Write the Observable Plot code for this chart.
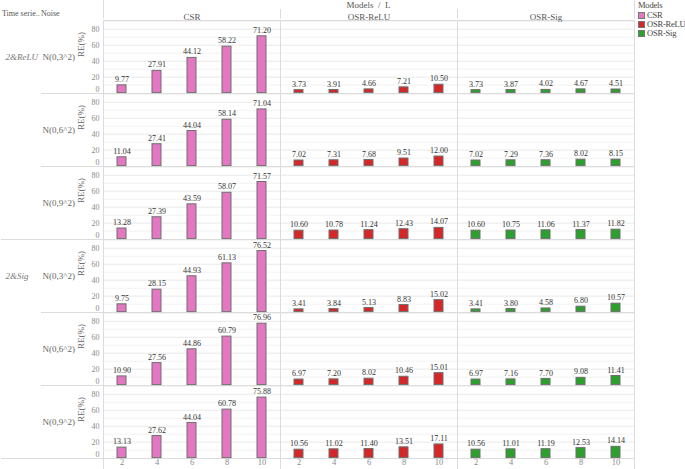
<!DOCTYPE html>
<html><head><meta charset="utf-8">
<script src="https://cdn.jsdelivr.net/npm/d3@7"></script>
<script src="https://cdn.jsdelivr.net/npm/@observablehq/plot@0.6"></script>
<style>
body{margin:0;background:#fff;font-family:"Liberation Serif",serif;}
#wrap{position:relative;width:685px;height:469px;overflow:hidden;}
.hdr{position:absolute;font-size:9px;color:#555;white-space:pre;line-height:10px;}
.legend{position:absolute;left:635px;top:1px;font-size:8.5px;letter-spacing:-0.2px;color:#444;line-height:9px;white-space:nowrap;}
.legend .it{display:flex;align-items:center;}
.legend .sw{display:inline-block;flex:none;width:7px;height:7px;margin:0 2px 0 3px;box-sizing:border-box;border:1px solid #777;}
</style></head>
<body><div id="wrap"></div>
<script>
const timeSeries = ["2&ReLU", "2&Sig"];
const noises = ["N(0,3^2)", "N(0,6^2)", "N(0,9^2)"];
const models = ["CSR", "OSR-ReLU", "OSR-Sig"];
const modelColors = ["#e377c2", "#d62728", "#2ca02c"];
const L = [2, 4, 6, 8, 10];
// rows: 2&ReLU N3, N6, N9, 2&Sig N3, N6, N9
const csr = [
  [9.77, 27.91, 44.12, 58.22, 71.20],
  [11.04, 27.41, 44.04, 58.14, 71.04],
  [13.28, 27.39, 43.59, 58.07, 71.57],
  [9.75, 28.15, 44.93, 61.13, 76.52],
  [10.90, 27.56, 44.86, 60.79, 76.96],
  [13.13, 27.62, 44.04, 60.78, 75.88]
];
const osrRelu = [
  [3.73, 3.91, 4.66, 7.21, 10.50],
  [7.02, 7.31, 7.68, 9.51, 12.00],
  [10.60, 10.78, 11.24, 12.43, 14.07],
  [3.41, 3.84, 5.13, 8.83, 15.02],
  [6.97, 7.20, 8.02, 10.46, 15.01],
  [10.56, 11.02, 11.40, 13.51, 17.11]
];
const osrSig = [
  [3.73, 3.87, 4.02, 4.67, 4.51],
  [7.02, 7.29, 7.36, 8.02, 8.15],
  [10.60, 10.75, 11.06, 11.37, 11.82],
  [3.41, 3.80, 4.58, 6.80, 10.57],
  [6.97, 7.16, 7.70, 9.08, 11.41],
  [10.56, 11.01, 11.19, 12.53, 14.14]
];
const yTicks = [0, 20, 40, 60, 80];

const rows = [];
timeSeries.forEach((ts, i) => noises.forEach((nz, j) => rows.push({ts, nz, j, key: ts + "|" + nz, r: i * noises.length + j})));
const seriesByModel = [csr, osrRelu, osrSig];
const data = [];
models.forEach((m, mi) => rows.forEach(row => L.forEach((l, k) =>
  data.push({model: m, key: row.key, L: l, v: seriesByModel[mi][row.r][k]}))));

const yTop = 91, yBot = -0.5;
const lineColor = "#dcdcdc";

const chart = Plot.plot({
  width: 685, height: 469,
  marginLeft: 102, marginRight: 51, marginTop: 18.5, marginBottom: 10,
  style: {fontFamily: "Liberation Serif, serif", background: "white", overflow: "visible"},
  fx: {domain: models, padding: 0, axis: null},
  fy: {domain: rows.map(d => d.key), padding: 0, axis: null},
  x: {type: "band", domain: L, paddingInner: 0.737, paddingOuter: 0.368},
  y: {domain: [yBot, yTop]},
  color: {domain: models, range: modelColors},
  marks: [
    Plot.gridY({ticks: d3.range(10, 91, 20), stroke: "#f2f2f2", strokeOpacity: 1}),
    Plot.gridY({ticks: d3.range(20, 91, 20), stroke: "#e9e9e9", strokeOpacity: 1}),
    Plot.frame({stroke: lineColor}),
    // row separators extending under the label columns
    Plot.ruleY(rows.filter(r => r.j > 0), {fy: "key", fx: () => models[0], y: () => yTop, dx: -62, stroke: lineColor}),
    Plot.ruleY(rows.filter(r => r.j === 0 && r.r > 0), {fy: "key", fx: () => models[0], y: () => yTop, dx: -102, stroke: lineColor}),
    Plot.ruleY(rows.slice(-1), {fy: "key", fx: () => models[0], y: () => yBot, dx: -102, stroke: lineColor}),
    Plot.barY(data, {fx: "model", fy: "key", x: "L", y: "v", fill: "model", stroke: "#6f6f6f", strokeWidth: 1}),
    Plot.text(data, {fx: "model", fy: "key", x: "L", y: "v", text: d => d.v.toFixed(2), dy: -6, fill: "#333", fontSize: 8}),
    Plot.axisY({ticks: yTicks.filter(t => t > 0), tickSize: 0, tickPadding: 4, label: null, fill: "#8a8a8a", fontSize: 8}),
    Plot.axisY({ticks: [0], tickSize: 0, tickPadding: 4, dy: -4, label: null, fill: "#8a8a8a", fontSize: 8}),
    Plot.axisX({tickSize: 0, tickPadding: 0, label: null, fill: "#8a8a8a", fontSize: 8.5}),
    Plot.axisFx({anchor: "top", tickSize: 0, tickPadding: 1, label: null, fill: "#555", fontSize: 9}),
    Plot.text(rows, {fy: "key", fx: () => models[0], frameAnchor: "left", dx: -61, textAnchor: "start", text: "nz", fill: "#666", fontSize: 9}),
    Plot.text(rows.filter(r => r.j === 0), {fy: "key", fx: () => models[0], frameAnchor: "left", dx: -98, textAnchor: "start", text: "ts", fill: "#777", fontSize: 9, fontStyle: "italic"}),
    Plot.text(rows, {fy: "key", fx: () => models[0], frameAnchor: "left", dx: -22, rotate: -90, text: () => "RE(%)", fill: "#666", fontSize: 9})
  ]
});

const wrap = document.getElementById("wrap");
wrap.appendChild(chart);

// vertical panel borders through header and tick-label bands, from the fx scale
const svg = d3.select(chart.tagName.toLowerCase() === "svg" ? chart : chart.querySelector("svg"));
const fxs = chart.scale("fx");
const edges = models.map(m => fxs.apply(m));
edges.push(fxs.apply(models[models.length - 1]) + fxs.bandwidth);
const gl = svg.append("g").attr("stroke", lineColor).attr("stroke-width", 1);
edges.forEach((x, i) => {
  const full = i === 0 || i === edges.length - 1;
  gl.append("line").attr("x1", x + 0.5).attr("x2", x + 0.5).attr("y1", full ? 0 : 9).attr("y2", 18.5);
  gl.append("line").attr("x1", x + 0.5).attr("x2", x + 0.5).attr("y1", 459).attr("y2", 469);
});

// header texts
function hdr(text, left, top, center, size) {
  const d = document.createElement("div");
  d.className = "hdr"; d.textContent = text;
  d.style.left = left + "px"; d.style.top = top + "px";
  if (size) d.style.fontSize = size + "px";
  if (center) d.style.transform = "translateX(-50%)";
  wrap.appendChild(d);
}
hdr("Models  /  L", (edges[0] + edges[edges.length - 1]) / 2, 0, true);
hdr("Time serie..", 2, 9, false, 8);
hdr("Noise", 41, 9, false, 8);

// legend
const lg = document.createElement("div");
lg.className = "legend";
lg.innerHTML = "<div style='margin-left:3px;margin-bottom:1px'>Models</div>" +
  models.map((m, i) => `<div class="it"><span class="sw" style="background:${modelColors[i]}"></span>${m}</div>`).join("");
wrap.appendChild(lg);
</script>
</body></html>
